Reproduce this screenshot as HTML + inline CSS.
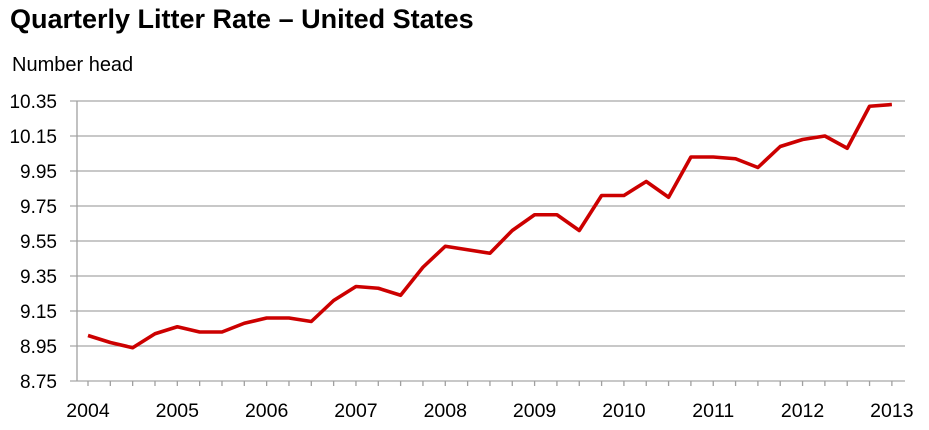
<!DOCTYPE html>
<html><head><meta charset="utf-8"><style>
body{margin:0;background:#fff;width:929px;height:425px;overflow:hidden;font-family:"Liberation Sans",Arial,sans-serif}
</style></head><body>
<svg width="929" height="425" font-family="Liberation Sans, Arial, sans-serif">
<text x="10" y="28" font-size="27" font-weight="bold" fill="#000">Quarterly Litter Rate – United States</text>
<text x="12" y="71" font-size="20" fill="#000">Number head</text>
<g id="grid"></g><g id="axes"></g><g id="series"></g>
</svg>
<script>
const yTicks=[8.75,8.95,9.15,9.35,9.55,9.75,9.95,10.15,10.35];
const xLabels=["2004","2005","2006","2007","2008","2009","2010","2011","2012","2013"];
const values=[9.01,8.97,8.94,9.02,9.06,9.03,9.03,9.08,9.11,9.11,9.09,9.21,9.29,9.28,9.24,9.40,9.52,9.50,9.48,9.61,9.70,9.70,9.61,9.81,9.81,9.89,9.80,10.03,10.03,10.02,9.97,10.09,10.13,10.15,10.08,10.32,10.33];
const NS="http://www.w3.org/2000/svg";
const X0=88,DX=22.33,Y0=381,PPU=175;
const xq=i=>X0+i*DX;
const yv=v=>Y0-(v-8.75)*PPU;
function mk(t,a,p){const e=document.createElementNS(NS,t);for(const k in a)e.setAttribute(k,a[k]);p.appendChild(e);return e;}
const grid=document.getElementById('grid'),axes=document.getElementById('axes'),ser=document.getElementById('series');
yTicks.forEach(v=>{
 const l=mk('line',{x1:70,x2:905,y1:yv(v),y2:yv(v),stroke:'#a6a6a6','stroke-width':1.3},grid);
 
 
 const t=mk('text',{x:57,y:yv(v)+7,'font-size':19,'text-anchor':'end',fill:'#000'},axes);
 t.textContent=v.toFixed(2);
 
 
});
const ya=mk('line',{x1:77,x2:77,y1:yv(10.35),y2:Y0,stroke:'#a0a0a0','stroke-width':1.3},axes);


for(let i=0;i<values.length;i++){
 const tk=mk('line',{x1:xq(i),x2:xq(i),y1:Y0,y2:Y0+5,stroke:'#a0a0a0','stroke-width':1.3},axes);
 
 
}
xLabels.forEach((s,i)=>{
 const t=mk('text',{x:xq(i*4),y:417,'font-size':19.5,'text-anchor':'middle',fill:'#000'},axes);
 t.textContent=s;
 
 
});
const p=mk('polyline',{points:values.map((v,i)=>xq(i)+','+yv(v)).join(' '),fill:'none',stroke:'#cc0000','stroke-width':3.6,'stroke-linejoin':'round'},ser);


</script>
</body></html>
